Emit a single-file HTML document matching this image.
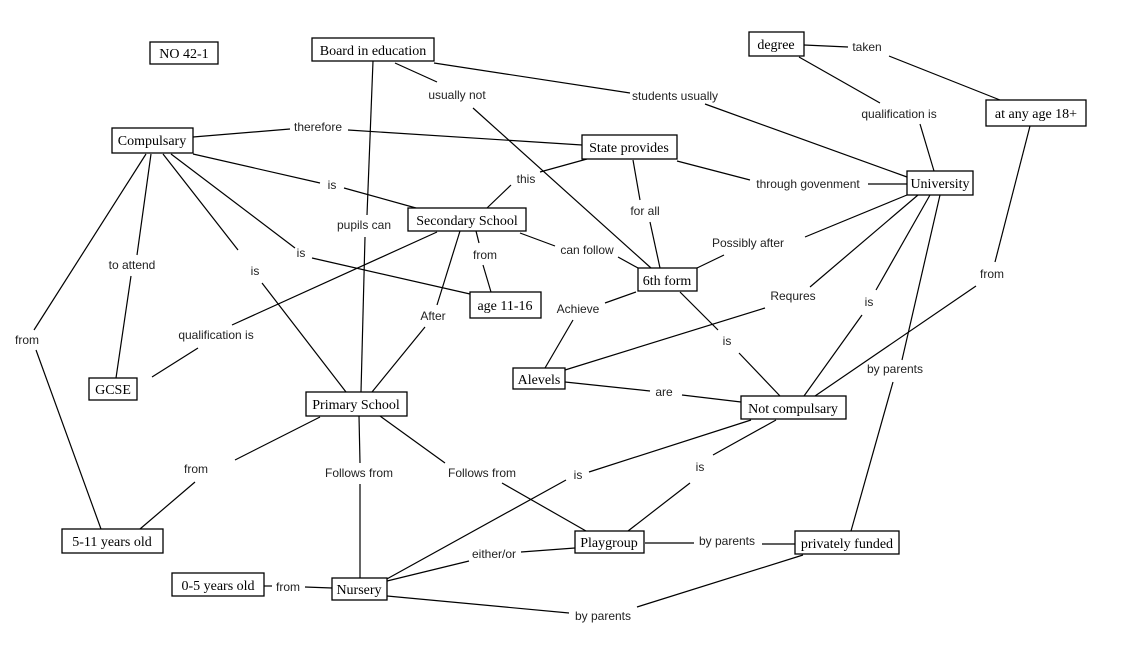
<!DOCTYPE html>
<html><head><meta charset="utf-8"><style>
html,body{margin:0;padding:0;background:#fff;}
svg{display:block;}
.n rect{fill:#fff;stroke:#000;stroke-width:1.3;}
.n text{font-family:"Liberation Serif",serif;font-size:14px;text-anchor:middle;}
.l{font-family:"Liberation Sans",sans-serif;font-size:12px;text-anchor:middle;fill:#222;}
line{stroke:#000;stroke-width:1.2;}
</style></head><body>
<svg width="1128" height="669" viewBox="0 0 1128 669" xmlns="http://www.w3.org/2000/svg">
<g>
<line x1="395" y1="63" x2="437" y2="82"/><line x1="473" y1="108" x2="651" y2="268"/>
<line x1="434" y1="63" x2="630" y2="93"/><line x1="705" y1="104" x2="907" y2="177"/>
<line x1="373" y1="61" x2="367" y2="215"/><line x1="365" y1="237" x2="361" y2="392"/>
<line x1="804" y1="45" x2="848" y2="47"/><line x1="889" y1="56" x2="1000" y2="100"/>
<line x1="799" y1="57" x2="880" y2="103"/><line x1="920" y1="124" x2="934" y2="171"/>
<line x1="193" y1="137" x2="290" y2="129"/><line x1="348" y1="130" x2="582" y2="145"/>
<line x1="193" y1="154" x2="320" y2="183"/><line x1="344" y1="188" x2="416" y2="208"/>
<line x1="171" y1="154" x2="295" y2="248"/><line x1="312" y1="258" x2="470" y2="294"/>
<line x1="163" y1="154" x2="238" y2="250"/><line x1="262" y1="283" x2="346" y2="392"/>
<line x1="151" y1="154" x2="137" y2="255"/><line x1="131" y1="276" x2="116" y2="378"/>
<line x1="146" y1="154" x2="34" y2="330"/><line x1="36" y1="350" x2="101" y2="529"/>
<line x1="587" y1="159" x2="540" y2="172"/><line x1="511" y1="185" x2="487" y2="208"/>
<line x1="677" y1="161" x2="750" y2="180"/><line x1="868" y1="184" x2="907" y2="184"/>
<line x1="633" y1="160" x2="640" y2="200"/><line x1="650" y1="222" x2="660" y2="268"/>
<line x1="476" y1="231" x2="479" y2="243"/><line x1="483" y1="265" x2="491" y2="292"/>
<line x1="520" y1="233" x2="555" y2="246"/><line x1="618" y1="257" x2="638" y2="268"/>
<line x1="437" y1="232" x2="232" y2="325"/><line x1="152" y1="377" x2="198" y2="348"/>
<line x1="460" y1="231" x2="437" y2="305"/><line x1="425" y1="327" x2="372" y2="392"/>
<line x1="907" y1="195" x2="805" y2="237"/><line x1="724" y1="255" x2="697" y2="268"/>
<line x1="918" y1="195" x2="810" y2="287"/><line x1="765" y1="308" x2="565" y2="370"/>
<line x1="930" y1="195" x2="876" y2="290"/><line x1="862" y1="315" x2="804" y2="396"/>
<line x1="940" y1="195" x2="902" y2="360"/><line x1="893" y1="382" x2="851" y2="531"/>
<line x1="1030" y1="126" x2="995" y2="262"/><line x1="976" y1="286" x2="815" y2="396"/>
<line x1="636" y1="292" x2="605" y2="303"/><line x1="573" y1="320" x2="545" y2="368"/>
<line x1="680" y1="292" x2="718" y2="330"/><line x1="739" y1="353" x2="780" y2="396"/>
<line x1="565" y1="382" x2="650" y2="391"/><line x1="682" y1="395" x2="741" y2="402"/>
<line x1="320" y1="417" x2="235" y2="460"/><line x1="195" y1="482" x2="140" y2="529"/>
<line x1="359" y1="416" x2="360" y2="463"/><line x1="360" y1="484" x2="360" y2="578"/>
<line x1="380" y1="416" x2="445" y2="463"/><line x1="502" y1="483" x2="586" y2="531"/>
<line x1="751" y1="420" x2="589" y2="472"/><line x1="566" y1="480" x2="385" y2="580"/>
<line x1="776" y1="420" x2="713" y2="455"/><line x1="690" y1="483" x2="628" y2="531"/>
<line x1="645" y1="543" x2="694" y2="543"/><line x1="762" y1="544" x2="795" y2="544"/>
<line x1="387" y1="581" x2="469" y2="561"/><line x1="521" y1="552" x2="575" y2="548"/>
<line x1="803" y1="555" x2="637" y2="607"/><line x1="569" y1="613" x2="387" y2="596"/>
<line x1="264" y1="586" x2="272" y2="586"/><line x1="305" y1="587" x2="332" y2="588"/>
</g>
<g class="l">
<text x="318" y="131">therefore</text><text x="457" y="99">usually not</text>
<text x="675" y="100">students usually</text><text x="867" y="51">taken</text>
<text x="899" y="118">qualification is</text><text x="332" y="189">is</text>
<text x="526" y="183">this</text><text x="808" y="188">through govenment</text>
<text x="645" y="215">for all</text><text x="364" y="229">pupils can</text>
<text x="132" y="269">to attend</text><text x="301" y="257">is</text>
<text x="255" y="275">is</text><text x="587" y="254">can follow</text>
<text x="485" y="259">from</text><text x="748" y="247">Possibly after</text>
<text x="793" y="300">Requres</text><text x="869" y="306">is</text>
<text x="992" y="278">from</text><text x="578" y="313">Achieve</text>
<text x="433" y="320">After</text><text x="216" y="339">qualification is</text>
<text x="27" y="344">from</text><text x="727" y="345">is</text>
<text x="895" y="373">by parents</text><text x="664" y="396">are</text>
<text x="196" y="473">from</text><text x="359" y="477">Follows from</text>
<text x="482" y="477">Follows from</text><text x="578" y="479">is</text>
<text x="700" y="471">is</text><text x="494" y="558">either/or</text>
<text x="727" y="545">by parents</text><text x="288" y="591">from</text>
<text x="603" y="620">by parents</text>
</g>
<g class="n">
<rect x="150" y="42" width="68" height="22"/><text x="184" y="58">NO 42-1</text>
<rect x="312" y="38" width="122" height="23"/><text x="373" y="55">Board in education</text>
<rect x="749" y="32" width="55" height="24"/><text x="776" y="49">degree</text>
<rect x="986" y="100" width="100" height="26"/><text x="1036" y="118">at any age 18+</text>
<rect x="112" y="128" width="81" height="25"/><text x="152" y="145">Compulsary</text>
<rect x="582" y="135" width="95" height="24"/><text x="629" y="152">State provides</text>
<rect x="907" y="171" width="66" height="24"/><text x="940" y="188">University</text>
<rect x="408" y="208" width="118" height="23"/><text x="467" y="225">Secondary School</text>
<rect x="638" y="268" width="59" height="23"/><text x="667" y="285">6th form</text>
<rect x="470" y="292" width="71" height="26"/><text x="505" y="310">age 11-16</text>
<rect x="89" y="378" width="48" height="22"/><text x="113" y="394">GCSE</text>
<rect x="513" y="368" width="52" height="21"/><text x="539" y="384">Alevels</text>
<rect x="306" y="392" width="101" height="24"/><text x="356" y="409">Primary School</text>
<rect x="741" y="396" width="105" height="23"/><text x="793" y="413">Not compulsary</text>
<rect x="62" y="529" width="101" height="24"/><text x="112" y="546">5-11 years old</text>
<rect x="575" y="531" width="69" height="22"/><text x="609" y="547">Playgroup</text>
<rect x="795" y="531" width="104" height="23"/><text x="847" y="548">privately funded</text>
<rect x="172" y="573" width="92" height="23"/><text x="218" y="590">0-5 years old</text>
<rect x="332" y="578" width="55" height="22"/><text x="359" y="594">Nursery</text>
</g>
</svg>
</body></html>
